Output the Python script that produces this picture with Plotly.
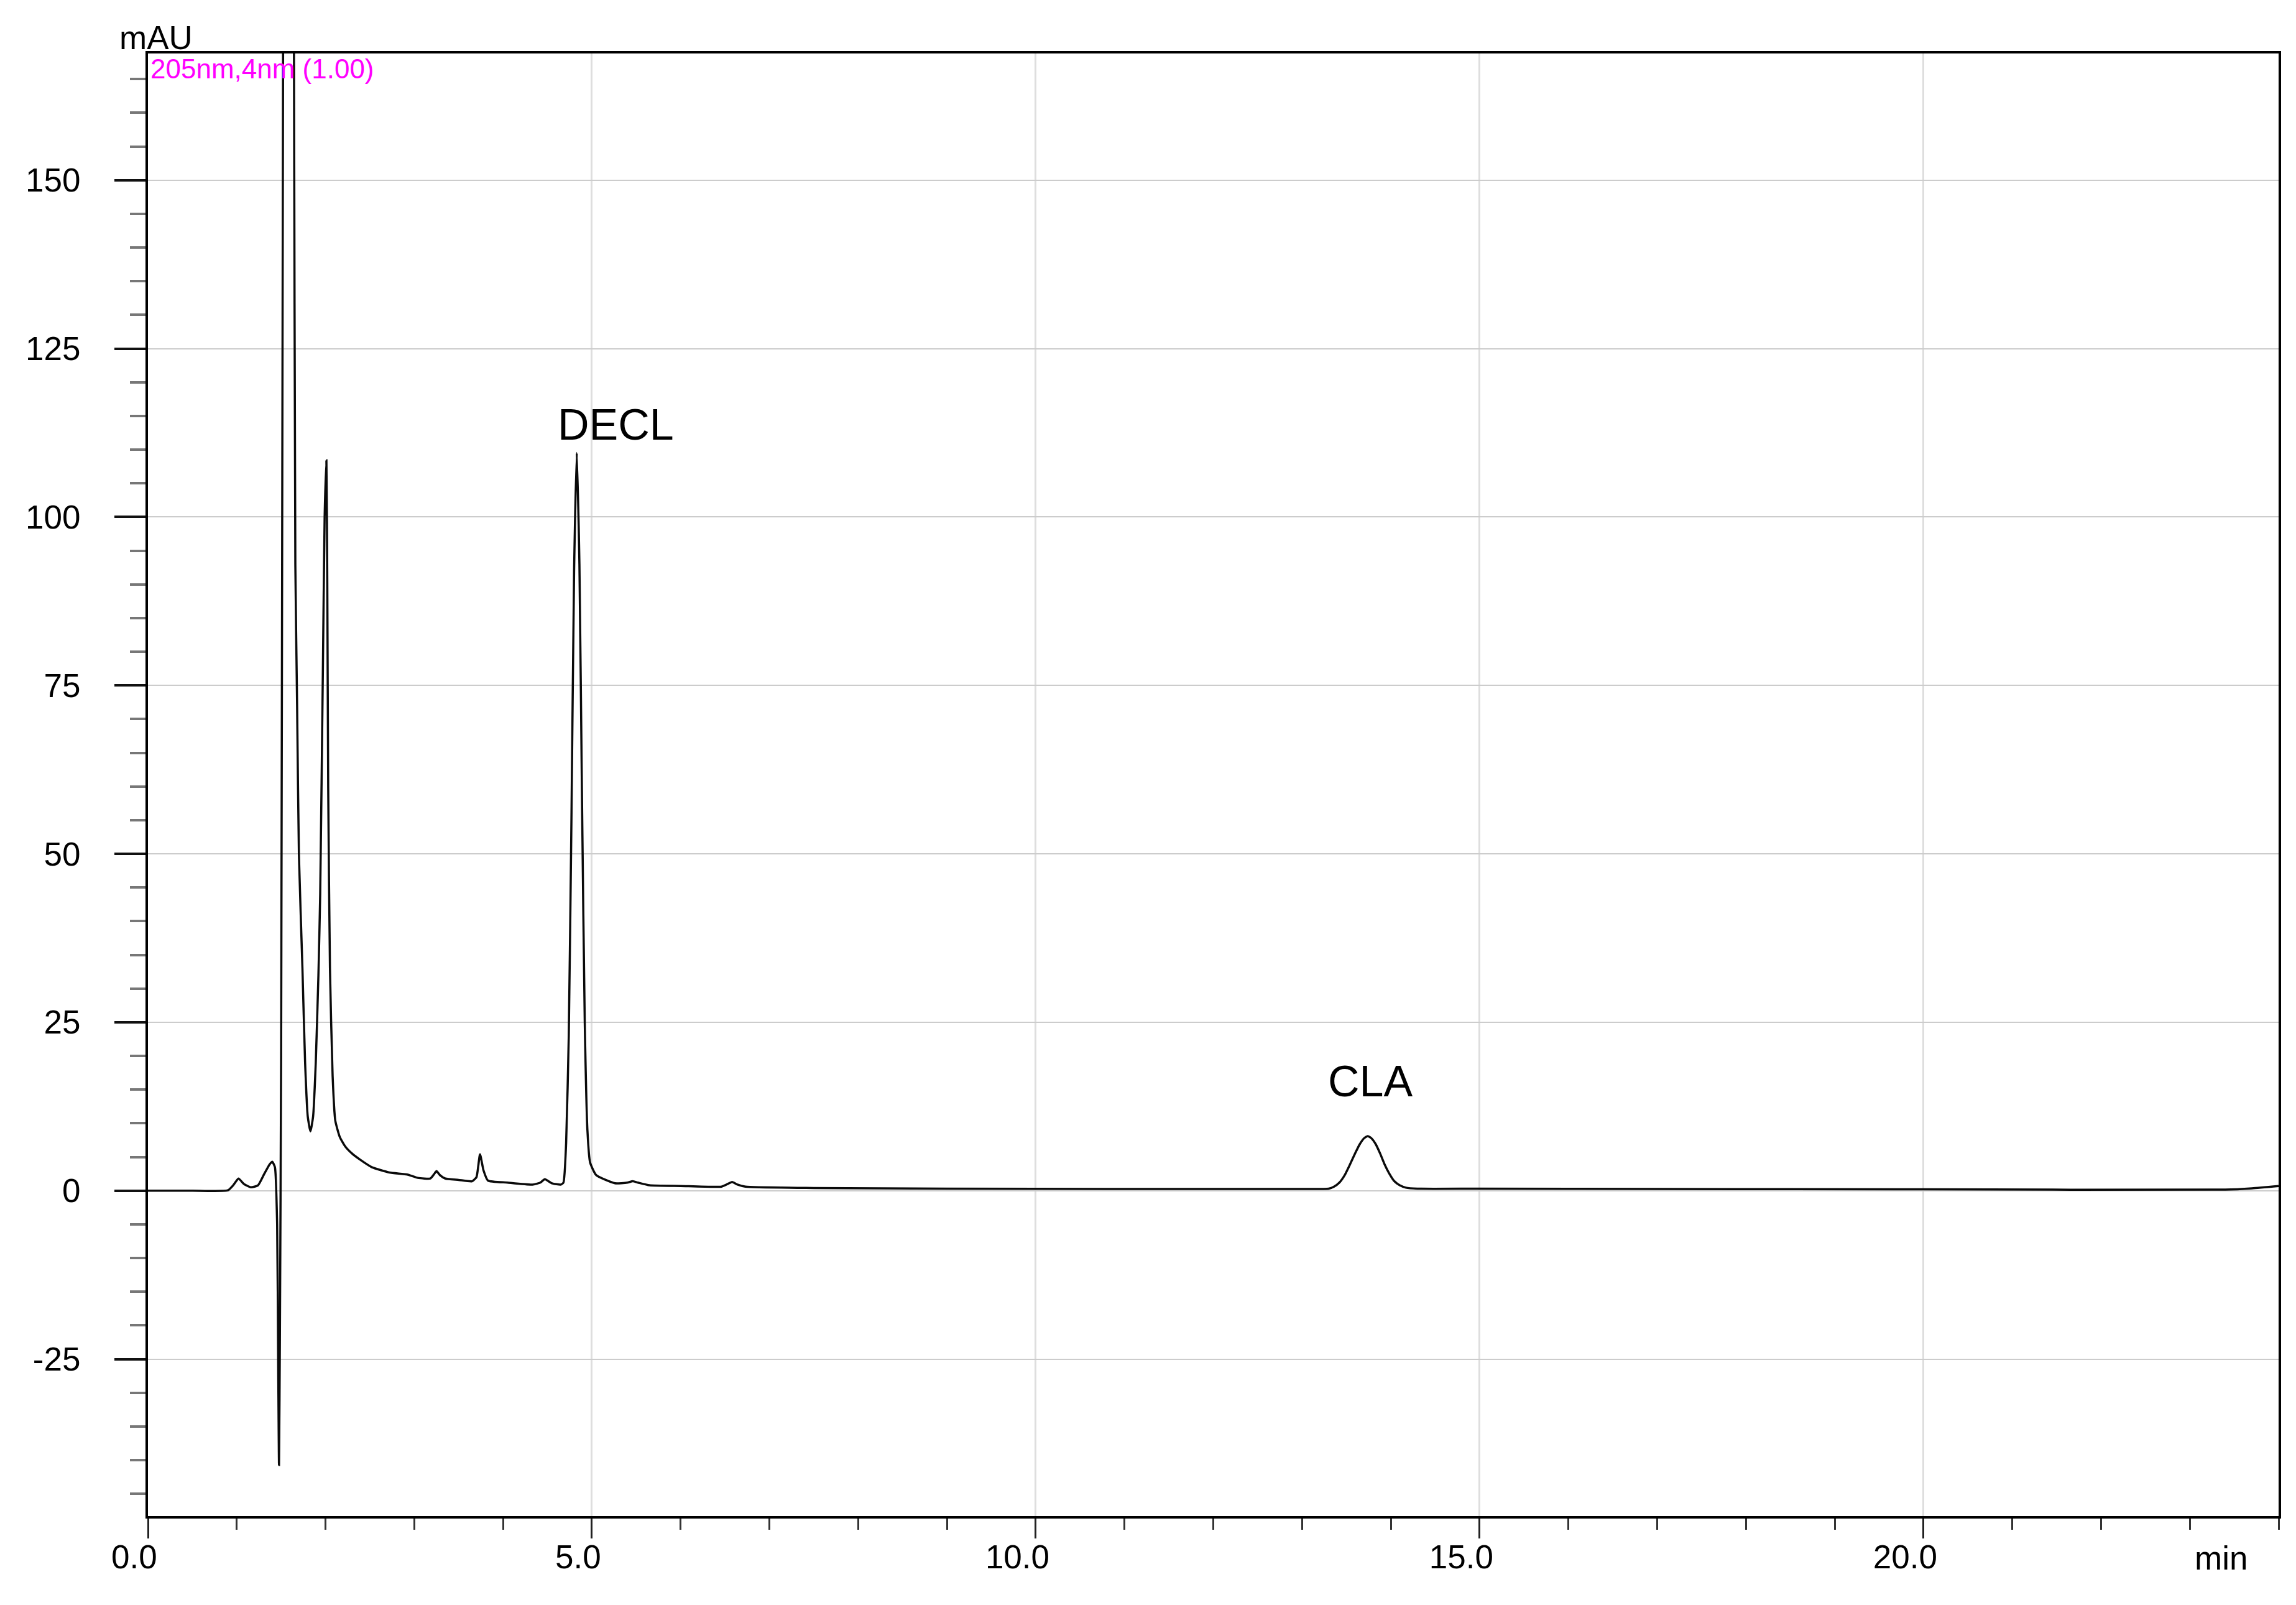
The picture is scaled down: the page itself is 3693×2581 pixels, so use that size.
import plotly.graph_objects as go

# ---- data (time in min, absorbance in mAU) ----
time_min = [0.00, 0.50, 0.90, 0.96, 1.02, 1.08, 1.16, 1.24, 1.31, 1.37, 1.40, 1.43,
            1.455, 1.468, 1.476, 1.486, 1.50, 1.515, 1.53, 1.56, 1.59, 1.62, 1.645,
            1.66, 1.68, 1.70, 1.74, 1.77, 1.80, 1.83, 1.86, 1.89, 1.92, 1.94, 1.97,
            1.99, 2.01, 2.02, 2.03, 2.05, 2.08, 2.11, 2.16, 2.22, 2.30, 2.39, 2.52,
            2.72, 2.92, 3.04, 3.18, 3.22, 3.25, 3.29, 3.35, 3.50, 3.65, 3.70, 3.74,
            3.78, 3.83, 4.05, 4.33, 4.42, 4.47, 4.55, 4.65, 4.68, 4.71, 4.74, 4.77,
            4.80, 4.83, 4.86, 4.89, 4.92, 4.95, 4.98, 5.05, 5.26, 5.40, 5.46, 5.52,
            5.65, 6.00, 6.46, 6.53, 6.58, 6.64, 6.73, 7.50, 9.00, 11.0, 13.0, 13.30,
            13.36, 13.42, 13.48, 13.54, 13.60, 13.65, 13.70, 13.74, 13.78, 13.83,
            13.88, 13.93, 13.98, 14.04, 14.10, 14.17, 14.30,
            15.0, 17.0, 20.0, 23.40, 23.70, 24.0]
absorbance_mau = [0.0, 0.0, 0.05, 0.8, 1.8, 1.0, 0.5, 0.8, 2.5, 3.9, 4.3, 3.5,
                  -5.0, -28.0, -40.7, -22.0, 20.0, 120.0, 220.0, 320.0, 350.0, 290.0, 168.0,
                  93.0, 72.0, 50.0, 33.0, 19.0, 11.0, 8.8, 11.0, 19.0, 32.0, 44.0, 77.0,
                  100.0, 108.4, 90.0, 60.0, 33.0, 17.0, 10.4, 8.0, 6.6, 5.5, 4.6, 3.5,
                  2.7, 2.4, 1.9, 1.8, 2.4, 2.9, 2.3, 1.8, 1.6, 1.4, 2.0, 5.4,
                  3.0, 1.5, 1.2, 0.9, 1.2, 1.7, 1.1, 0.9, 1.2, 7.0, 23.0, 55.0,
                  92.0, 109.5, 93.0, 57.0, 25.0, 9.0, 4.2, 2.3, 1.1, 1.2, 1.4, 1.2,
                  0.8, 0.7, 0.6, 1.0, 1.3, 0.9, 0.6, 0.4, 0.3, 0.25, 0.25, 0.3,
                  0.6, 1.2, 2.3, 3.9, 5.6, 6.9, 7.8, 8.1, 7.8, 6.9,
                  5.5, 3.9, 2.6, 1.4, 0.8, 0.45, 0.3,
                  0.3, 0.25, 0.2, 0.15, 0.35, 0.7]

peak_names = ["DECL", "CLA"]
peak_label_x = [5.27, 13.77]
peak_label_y = [113.7, 16.2]

x_major_ticks = [0, 5, 10, 15, 20]
x_tick_text = ["0.0", "5.0", "10.0", "15.0", "20.0"]
y_major_ticks = [-25, 0, 25, 50, 75, 100, 125, 150]
y_tick_text = ["-25", "0", "25", "50", "75", "100", "125", "150"]

# page offset of the figure (default body margin)
OFF = 8
W, H = 3693 - OFF, 2581 - OFF
L, R, T, B = 238 - OFF, 3665 - OFF, 86 - OFF, 2438 - OFF
FONT = "Liberation Sans, Arial, sans-serif"
NB = "\u00a0"

fig = go.Figure()
fig.add_trace(go.Scatter(x=time_min, y=absorbance_mau, mode="lines",
                         line=dict(color="#0a0a0a", width=3.5, shape="spline", smoothing=0.5),
                         showlegend=False, hoverinfo="skip"))

for name, lx, ly in zip(peak_names, peak_label_x, peak_label_y):
    fig.add_annotation(x=lx, y=ly, xref="x", yref="y", text=name, showarrow=False,
                       font=dict(family=FONT, size=70, color="#000000"),
                       xanchor="center", yanchor="middle")

def px_x(p):
    return (p - OFF - L) / (R - L)

def px_y(p):
    return (B - (p - OFF)) / (B - T)

fig.add_annotation(x=px_x(251), y=px_y(60), xref="paper", yref="paper", text="mAU",
                   showarrow=False, font=dict(family=FONT, size=53, color="#000000"),
                   xanchor="center", yanchor="middle")
fig.add_annotation(x=px_x(240), y=px_y(110), xref="paper", yref="paper",
                   text="205nm,4nm (1.00)", showarrow=False,
                   font=dict(family=FONT, size=44, color="#ff00ff"),
                   xanchor="left", yanchor="middle")
fig.add_annotation(x=px_x(3572), y=px_y(2505), xref="paper", yref="paper", text="min",
                   showarrow=False, font=dict(family=FONT, size=53, color="#000000"),
                   xanchor="center", yanchor="middle")

# tick labels in the original sit a little to the left of their ticks
x_tick_text_shifted = [t + NB * (3 if len(t) == 3 else 4) for t in x_tick_text]

fig.update_xaxes(range=[0, 24], tickmode="array", tickvals=x_major_ticks,
                 ticktext=x_tick_text_shifted, ticks="outside", ticklen=32, tickwidth=3,
                 tickcolor="#222222", showline=True, linecolor="#000000", linewidth=4,
                 mirror=True, showgrid=True, gridcolor="#dedede", gridwidth=3,
                 zeroline=False, ticklabelstandoff=-16,
                 tickfont=dict(family=FONT, size=53, color="#000000"),
                 minor=dict(dtick=1, tick0=0, ticks="outside", ticklen=18, tickwidth=3,
                            tickcolor="#333333", showgrid=False))
fig.update_yaxes(range=[-48.3, 168.8], tickmode="array", tickvals=y_major_ticks,
                 ticktext=y_tick_text, ticks="outside", ticklen=50, tickwidth=4,
                 tickcolor="#111111", showline=True, linecolor="#000000", linewidth=4,
                 mirror=True, showgrid=True, gridcolor="#cccccc", gridwidth=2,
                 zeroline=False, ticklabelstandoff=44,
                 tickfont=dict(family=FONT, size=53, color="#000000"),
                 minor=dict(dtick=5, tick0=0, ticks="outside", ticklen=25, tickwidth=4,
                            tickcolor="#777777", showgrid=False))

fig.update_layout(width=W, height=H, paper_bgcolor="white", plot_bgcolor="white",
                  margin=dict(l=L, r=W - R, t=T, b=H - B, pad=0),
                  showlegend=False)

fig.write_html("out.html")
